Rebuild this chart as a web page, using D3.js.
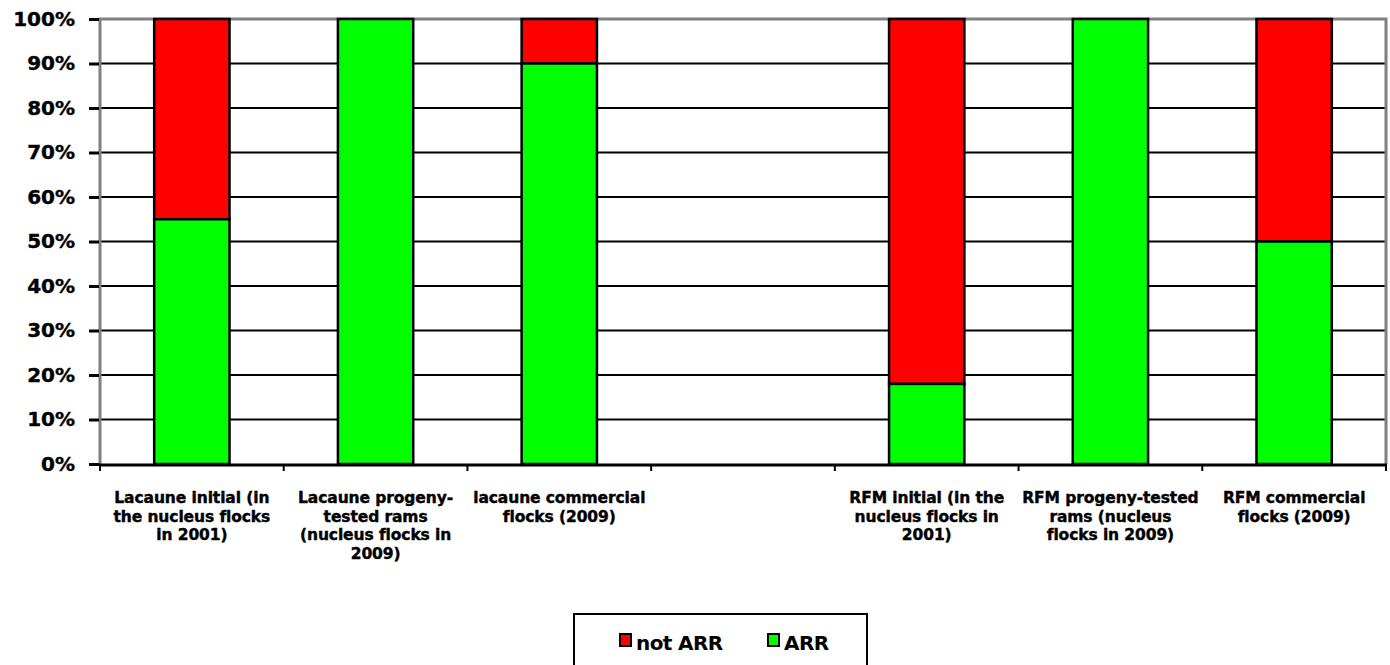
<!DOCTYPE html>
<html lang="en">
<head>
<meta charset="utf-8">
<title>ARR genotype share</title>
<script src="https://cdnjs.cloudflare.com/ajax/libs/d3/7.8.5/d3.min.js"></script>
<style>
  body { margin: 0; background: #fff; }
  svg text { font-family: "DejaVu Sans", Verdana, sans-serif; }
</style>
</head>
<body>
<div id="viz"></div>
<script>
// category labels, already broken into lines as in the chart
const categories = [
  ["Lacaune initial (in", "the nucleus flocks", "in 2001)"],
  ["Lacaune progeny-", "tested rams", "(nucleus flocks in", "2009)"],
  ["lacaune commercial", "flocks (2009)"],
  [],
  ["RFM initial (in the", "nucleus flocks  in", "2001)"],
  ["RFM progeny-tested", "rams (nucleus", "flocks in 2009)"],
  ["RFM commercial", "flocks (2009)"]
];
const arr    = [55, 100, 90, null, 18, 100, 50];
const notArr = [45, 0, 10, null, 82, 0, 50];
const seriesNames = ["not ARR", "ARR"];
const seriesColors = ["#ff0000", "#00ff00"];
const yTicks = [0, 10, 20, 30, 40, 50, 60, 70, 80, 90, 100];

const width = 1390, height = 665;
const plotLeft = 100, plotRight = 1386, plotTop = 19, plotBottom = 464;

const svg = d3.select("#viz").append("svg")
  .attr("width", width).attr("height", height);

const x = d3.scaleBand().domain(d3.range(categories.length)).range([plotLeft, plotRight]).padding(0);
const y = d3.scaleLinear().domain([0, 100]).range([plotBottom, plotTop]);

// gridlines
svg.append("g").selectAll("line")
  .data(yTicks.filter(t => t > 0 && t < 100))
  .enter().append("line")
  .attr("x1", plotLeft).attr("x2", plotRight)
  .attr("y1", d => y(d)).attr("y2", d => y(d))
  .attr("stroke", "#000").attr("stroke-width", 2);

// plot frame (grey top, left, right)
svg.append("path")
  .attr("d", `M${plotLeft},${plotBottom} V${plotTop} H${plotRight} V${plotBottom}`)
  .attr("fill", "none").attr("stroke", "#808080").attr("stroke-width", 3);

// bars
const barW = x.bandwidth() * 0.41;
const rows = categories.map((c, i) => ({ i, arr: arr[i], notArr: notArr[i] }))
  .filter(d => d.arr !== null);

const bars = svg.append("g");
rows.forEach(d => {
  const bx = x(d.i) + (x.bandwidth() - barW) / 2;
  if (d.notArr > 0) {
    bars.append("rect")
      .attr("x", bx).attr("width", barW)
      .attr("y", y(100)).attr("height", y(d.arr) - y(100))
      .attr("fill", seriesColors[0]).attr("stroke", "#000").attr("stroke-width", 2.5);
  }
  bars.append("rect")
    .attr("x", bx).attr("width", barW)
    .attr("y", y(d.arr)).attr("height", y(0) - y(d.arr))
    .attr("fill", seriesColors[1]).attr("stroke", "#000").attr("stroke-width", 2.5);
});

// y axis
const yAxis = svg.append("g")
  .attr("transform", `translate(${plotLeft - 1},0)`)
  .call(d3.axisLeft(y).tickValues(yTicks).tickFormat(d => d + "%").tickSize(10).tickPadding(14));
yAxis.select(".domain").remove();
yAxis.selectAll(".tick line").attr("stroke", "#000").attr("stroke-width", 3);
yAxis.selectAll(".tick text")
  .attr("font-size", 20).attr("font-weight", "bold").attr("fill", "#000")
  .attr("font-family", "DejaVu Sans")
  .attr("stroke", "#000").attr("stroke-width", 0.4);

// x axis
svg.append("line")
  .attr("x1", plotLeft - 1).attr("x2", plotRight + 1)
  .attr("y1", plotBottom + 1).attr("y2", plotBottom + 1)
  .attr("stroke", "#000").attr("stroke-width", 3);
svg.append("g").selectAll("line")
  .data(d3.range(categories.length + 1))
  .enter().append("line")
  .attr("x1", d => plotLeft + d * x.step()).attr("x2", d => plotLeft + d * x.step())
  .attr("y1", plotBottom).attr("y2", plotBottom + 7)
  .attr("stroke", "#000").attr("stroke-width", 2);

const labels = svg.append("g");
categories.forEach((lines, i) => {
  const t = labels.append("text")
    .attr("x", x(i) + x.bandwidth() / 2)
    .attr("y", 503)
    .attr("text-anchor", "middle")
    .attr("font-size", 15.5)
    .attr("font-weight", "bold")
    .attr("letter-spacing", -0.1)
    .attr("fill", "#000")
    .attr("stroke", "#000").attr("stroke-width", 0.4);
  lines.forEach((ln, k) => {
    t.append("tspan")
      .attr("x", x(i) + x.bandwidth() / 2)
      .attr("dy", k === 0 ? 0 : 18.5)
      .text(ln);
  });
});

// legend
svg.append("rect")
  .attr("x", 574).attr("y", 614).attr("width", 293).attr("height", 60)
  .attr("fill", "#fff").attr("stroke", "#000").attr("stroke-width", 2);
const legendX = [620, 768];
seriesNames.forEach((name, i) => {
  svg.append("rect")
    .attr("x", legendX[i]).attr("y", 634).attr("width", 11).attr("height", 12)
    .attr("fill", seriesColors[i]).attr("stroke", "#000").attr("stroke-width", 2);
  svg.append("text")
    .attr("x", legendX[i] + 16).attr("y", 650)
    .attr("font-size", 20).attr("font-weight", "bold").attr("fill", "#000")
    .attr("letter-spacing", -0.6)
    .text(name);
});
</script>
</body>
</html>
